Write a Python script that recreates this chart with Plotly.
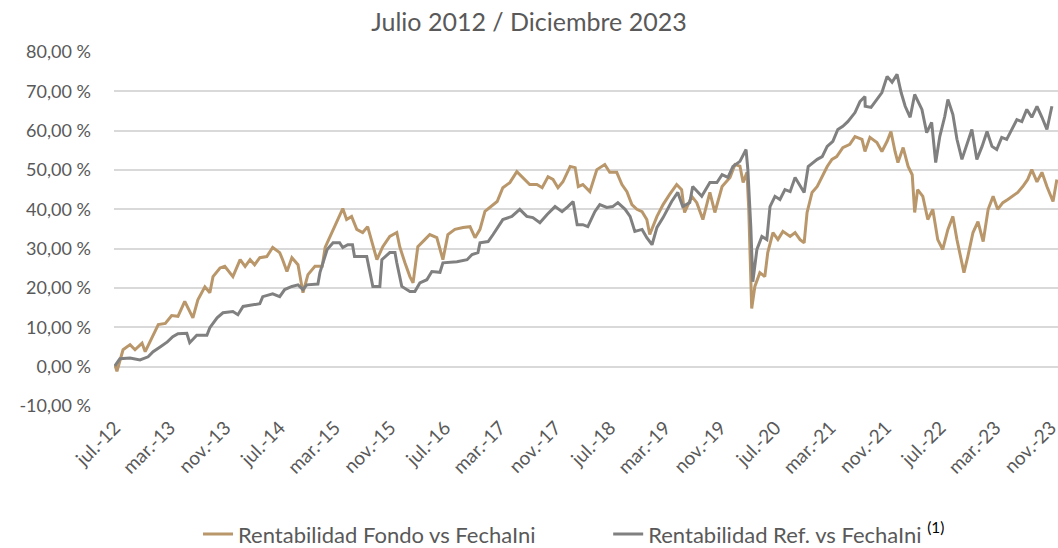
import plotly.graph_objects as go

# ---- Data ----
fondo_dates = [
    "2012-07-01", "2012-07-10", "2012-08-06", "2012-09-06", "2012-09-28", "2012-10-29", "2012-11-12",
    "2012-12-17", "2013-01-09", "2013-02-09", "2013-03-09", "2013-04-06", "2013-05-06", "2013-06-11",
    "2013-07-03", "2013-08-03", "2013-08-25", "2013-09-08", "2013-10-09", "2013-10-30", "2013-12-05",
    "2014-01-06", "2014-01-28", "2014-02-19", "2014-03-11", "2014-04-03", "2014-05-04", "2014-05-30",
    "2014-06-30", "2014-07-13", "2014-08-01", "2014-08-23", "2014-09-19", "2014-10-11", "2014-11-02",
    "2014-12-03", "2015-01-04", "2015-01-17", "2015-02-21", "2015-03-13", "2015-04-05", "2015-04-22",
    "2015-05-14", "2015-06-06", "2015-07-02", "2015-07-24", "2015-08-16", "2015-09-03", "2015-09-29",
    "2015-10-30", "2015-11-30", "2015-12-13", "2016-01-05", "2016-01-27", "2016-02-10", "2016-03-02",
    "2016-04-02", "2016-04-24", "2016-05-25", "2016-06-21", "2016-07-13", "2016-08-13", "2016-09-18",
    "2016-10-19", "2016-11-10", "2016-12-02", "2016-12-24", "2017-01-16", "2017-02-16", "2017-03-13",
    "2017-04-13", "2017-05-14", "2017-06-10", "2017-07-10", "2017-08-11", "2017-09-03", "2017-09-29",
    "2017-10-21", "2017-11-12", "2017-12-04", "2018-01-05", "2018-01-27", "2018-02-10", "2018-03-02",
    "2018-04-02", "2018-05-03", "2018-06-07", "2018-06-29", "2018-07-30", "2018-08-22", "2018-09-13",
    "2018-10-05", "2018-10-27", "2018-11-19", "2018-12-10", "2018-12-23", "2019-01-24", "2019-02-20",
    "2019-03-21", "2019-04-21", "2019-05-13", "2019-05-26", "2019-06-27", "2019-07-19", "2019-08-15",
    "2019-09-15", "2019-10-07", "2019-11-08", "2019-12-13", "2020-01-04", "2020-01-26", "2020-02-09",
    "2020-02-26", "2020-03-05", "2020-03-18", "2020-04-01", "2020-04-23", "2020-05-15", "2020-05-28",
    "2020-06-20", "2020-07-12", "2020-08-03", "2020-09-04", "2020-09-26", "2020-10-18", "2020-11-05",
    "2020-11-18", "2020-12-10", "2021-01-02", "2021-01-24", "2021-02-15", "2021-03-08", "2021-03-29",
    "2021-04-25", "2021-05-26", "2021-06-18", "2021-07-19", "2021-08-01", "2021-08-23", "2021-09-23",
    "2021-10-15", "2021-11-07", "2021-11-24", "2021-12-12", "2021-12-25", "2022-01-17", "2022-02-08",
    "2022-02-26", "2022-03-09", "2022-03-22", "2022-04-14", "2022-05-06", "2022-05-28", "2022-06-19",
    "2022-07-11", "2022-08-03", "2022-08-25", "2022-09-12", "2022-09-25", "2022-10-13", "2022-10-30",
    "2022-11-22", "2022-12-14", "2023-01-06", "2023-01-28", "2023-02-19", "2023-03-11", "2023-04-03",
    "2023-04-25", "2023-05-17", "2023-06-08", "2023-06-30", "2023-07-22", "2023-08-09", "2023-09-01",
    "2023-09-23", "2023-10-15", "2023-11-11", "2023-11-28",
]
fondo_values = [
    0.5, -1.2, 4.3, 5.6, 4.3, 6.0, 3.8,
    8.0, 10.7, 11.0, 13.0, 12.8, 16.6, 12.4,
    17.0, 20.3, 18.8, 22.9, 25.1, 25.5, 22.9,
    27.2, 25.5, 27.2, 25.9, 27.7, 28.0, 30.3,
    29.0, 27.2, 24.2, 27.7, 25.9, 18.8, 23.4,
    25.5, 25.5, 30.3, 34.9, 37.4, 40.2, 37.4,
    38.2, 34.9, 34.1, 35.6, 30.5, 27.2, 30.5,
    33.1, 34.1, 30.5, 26.4, 22.9, 21.3, 30.5,
    32.3, 33.6, 32.8, 27.2, 33.6, 34.9, 35.4,
    35.6, 32.8, 34.9, 39.5, 40.5, 42.0, 45.5,
    46.8, 49.6, 48.1, 46.3, 46.3, 45.5, 48.3,
    47.6, 45.5, 47.0, 50.9, 50.6, 45.8, 46.3,
    44.5, 50.1, 51.4, 49.4, 49.4, 46.3, 44.5,
    41.2, 40.0, 39.4, 37.4, 33.6, 38.2, 41.2,
    43.8, 46.3, 45.0, 39.2, 43.3, 41.7, 37.4,
    44.3, 39.2, 45.8, 48.1, 51.4, 51.0, 46.8,
    49.4, 40.0, 14.8, 20.4, 23.9, 22.9, 29.0,
    34.1, 32.3, 34.4, 33.1, 34.1, 32.3, 31.5,
    39.2, 44.3, 45.8, 48.3, 50.9, 52.7, 53.4,
    55.7, 56.5, 58.5, 57.8, 54.7, 58.3, 57.0,
    54.7, 57.3, 59.8, 54.7, 51.9, 55.7, 50.9,
    48.8, 39.2, 45.0, 43.3, 37.4, 40.0, 32.3,
    29.8, 34.9, 38.2, 32.3, 29.0, 23.9, 28.0,
    34.1, 36.9, 31.8, 40.0, 43.3, 40.0, 41.7,
    42.5, 43.3, 44.3, 45.8, 47.6, 50.1, 47.0,
    49.4, 45.8, 42.0, 47.6,
]

ref_dates = [
    "2012-07-01", "2012-07-23", "2012-09-06", "2012-10-20", "2012-11-25", "2012-12-17", "2013-01-17",
    "2013-02-18", "2013-03-14", "2013-04-06", "2013-05-15", "2013-05-28", "2013-06-28", "2013-08-12",
    "2013-08-25", "2013-09-26", "2013-10-22", "2013-12-05", "2013-12-27", "2014-01-19", "2014-02-19",
    "2014-04-03", "2014-04-16", "2014-05-30", "2014-06-30", "2014-07-22", "2014-08-23", "2014-09-19",
    "2014-10-11", "2014-10-28", "2014-12-16", "2014-12-25", "2015-01-26", "2015-02-21", "2015-03-22",
    "2015-04-05", "2015-04-27", "2015-05-18", "2015-05-27", "2015-07-20", "2015-08-16", "2015-09-16",
    "2015-09-25", "2015-10-30", "2015-11-22", "2015-11-30", "2015-12-22", "2016-01-27", "2016-02-18",
    "2016-03-11", "2016-04-11", "2016-05-03", "2016-06-08", "2016-06-21", "2016-08-22", "2016-10-06",
    "2016-10-28", "2016-11-23", "2016-12-02", "2017-01-07", "2017-01-29", "2017-02-20", "2017-03-13",
    "2017-04-22", "2017-05-27", "2017-06-27", "2017-07-24", "2017-08-24", "2017-09-25", "2017-10-30",
    "2017-11-30", "2017-12-26", "2018-01-18", "2018-02-05", "2018-03-02", "2018-03-24", "2018-04-24",
    "2018-05-16", "2018-06-16", "2018-07-12", "2018-08-04", "2018-09-05", "2018-09-27", "2018-10-18",
    "2018-11-19", "2018-12-10", "2019-01-02", "2019-01-24", "2019-02-20", "2019-03-30", "2019-04-26",
    "2019-05-18", "2019-06-18", "2019-07-01", "2019-08-10", "2019-09-15", "2019-10-16", "2019-11-08",
    "2019-12-04", "2019-12-26", "2020-01-26", "2020-02-22", "2020-03-01", "2020-03-14", "2020-03-23",
    "2020-04-10", "2020-05-02", "2020-05-24", "2020-06-07", "2020-06-29", "2020-07-21", "2020-08-12",
    "2020-09-04", "2020-09-26", "2020-10-18", "2020-11-05", "2020-11-23", "2021-01-02", "2021-01-24",
    "2021-02-15", "2021-03-12", "2021-04-03", "2021-04-25", "2021-05-17", "2021-06-18", "2021-07-10",
    "2021-08-01", "2021-08-02", "2021-08-28", "2021-10-15", "2021-11-07", "2021-11-29", "2021-12-21",
    "2022-01-08", "2022-01-26", "2022-02-17", "2022-03-09", "2022-04-10", "2022-05-01", "2022-05-23",
    "2022-06-10", "2022-06-28", "2022-07-20", "2022-08-03", "2022-08-25", "2022-09-12", "2022-10-04",
    "2022-10-26", "2022-11-17", "2022-12-09", "2023-01-01", "2023-01-23", "2023-02-14", "2023-03-07",
    "2023-03-29", "2023-04-20", "2023-05-12", "2023-06-04", "2023-06-26", "2023-07-18", "2023-08-09",
    "2023-09-01", "2023-09-23", "2023-10-15", "2023-11-06", "2023-11-28",
]
ref_values = [
    0.2, 2.0, 2.2, 1.7, 2.5, 3.8, 5.0,
    6.3, 7.6, 8.4, 8.5, 6.1, 8.0, 8.0,
    9.9, 12.4, 13.7, 14.0, 13.2, 15.3, 15.6,
    16.0, 17.8, 18.5, 17.8, 19.6, 20.4, 20.8,
    19.6, 20.8, 21.0, 23.9, 29.8, 31.5, 31.5,
    30.3, 31.0, 31.0, 28.0, 28.0, 20.4, 20.4,
    27.2, 29.0, 29.0, 26.4, 20.4, 19.1, 19.1,
    21.3, 22.1, 24.2, 24.0, 26.4, 26.7, 27.2,
    28.5, 29.0, 31.5, 31.8, 33.6, 35.4, 37.4,
    38.2, 40.0, 38.2, 37.9, 36.6, 38.7, 40.7,
    39.4, 40.7, 42.0, 36.1, 36.1, 35.6, 39.4,
    41.2, 40.5, 40.7, 41.7, 40.0, 38.2, 34.4,
    34.9, 32.8, 31.0, 35.4, 37.9, 42.0, 44.3,
    40.7, 41.7, 45.8, 43.3, 46.8, 46.8, 48.8,
    48.1, 50.9, 52.2, 55.2, 50.1, 35.6, 21.6,
    29.8, 33.1, 32.3, 40.7, 43.3, 42.5, 45.0,
    44.5, 48.1, 45.8, 44.3, 50.9, 52.7, 53.4,
    56.0, 57.3, 60.3, 61.1, 62.3, 64.6,
    67.4, 68.7, 66.2, 65.9, 69.7, 73.8, 72.3,
    74.3, 69.7, 66.2, 63.4, 69.2, 65.4, 59.5,
    62.1, 51.9, 58.5, 63.6, 67.9, 64.1, 57.8,
    52.7, 56.5, 60.3, 52.7, 56.0, 59.8, 56.0,
    55.2, 58.3, 57.8, 60.3, 62.8, 62.3, 65.4,
    63.4, 66.2, 63.4, 60.3, 66.2,
]

y_ticks = [-10, 0, 10, 20, 30, 40, 50, 60, 70, 80]
y_tick_labels = ["-10,00 %", "0,00 %", "10,00 %", "20,00 %", "30,00 %", "40,00 %",
                 "50,00 %", "60,00 %", "70,00 %", "80,00 %"]
x_ticks = ["2012-07-01", "2013-03-01", "2013-11-01", "2014-07-01", "2015-03-01", "2015-11-01",
           "2016-07-01", "2017-03-01", "2017-11-01", "2018-07-01", "2019-03-01", "2019-11-01",
           "2020-07-01", "2021-03-01", "2021-11-01", "2022-07-01", "2023-03-01", "2023-11-01"]
x_tick_labels = ["jul.-12", "mar.-13", "nov.-13", "jul.-14", "mar.-15", "nov.-15", "jul.-16",
                 "mar.-17", "nov.-17", "jul.-18", "mar.-19", "nov.-19", "jul.-20", "mar.-21",
                 "nov.-21", "jul.-22", "mar.-23", "nov.-23"]

n_fondo = min(len(fondo_dates), len(fondo_values))
n_ref = min(len(ref_dates), len(ref_values))

FONT = "Lato"
TXT = "#595959"

fig = go.Figure()
fig.add_trace(go.Scatter(
    x=fondo_dates[:n_fondo], y=fondo_values[:n_fondo], mode="lines",
    name="Rentabilidad Fondo vs FechaIni", legend="legend",
    line=dict(color="#B9976A", width=3),
))
fig.add_trace(go.Scatter(
    x=ref_dates[:n_ref], y=ref_values[:n_ref], mode="lines",
    name="Rentabilidad Ref. vs FechaIni <sup><span style='color:#000000'>(1)</span></sup>",
    legend="legend2",
    line=dict(color="#808080", width=3),
))

leg_common = dict(orientation="h", yanchor="middle", y=-0.362, xanchor="left",
                  font=dict(size=22, color=TXT, family=FONT), bgcolor="rgba(0,0,0,0)")

fig.update_layout(
    width=1058, height=548,
    margin=dict(l=114, r=0, t=52, b=142, autoexpand=False),
    paper_bgcolor="white", plot_bgcolor="white",
    font=dict(family=FONT, color=TXT, size=18),
    title=dict(text="Julio 2012 / Diciembre 2023", x=0.5, xanchor="center",
               y=0.96, yanchor="middle", font=dict(size=25, color=TXT, family=FONT)),
    showlegend=True,
    legend=dict(x=0.089, **leg_common),
    legend2=dict(x=0.5235, **leg_common),
    xaxis=dict(type="date", range=["2012-06-27", "2023-12-03"], automargin=False,
               tickmode="array", tickvals=x_ticks, ticktext=x_tick_labels,
               tickangle=-45, showgrid=False, zeroline=False, showline=False,
               ticks="", ticklabeloverflow="allow", ticklabelshift=0, ticklabelstandoff=6,
               tickfont=dict(size=19, color=TXT, family=FONT)),
    yaxis=dict(range=[-10, 80], tickmode="array", tickvals=y_ticks, ticktext=y_tick_labels,
               showgrid=True, gridcolor="#D9D9D9", gridwidth=2, zeroline=False, automargin=False,
               showline=False, ticks="", ticklabelstandoff=22,
               tickfont=dict(size=18, color=TXT, family=FONT)),
)

fig.write_html("out.html", config={"displayModeBar": False},
               post_script="document.body.style.margin='0px';")
